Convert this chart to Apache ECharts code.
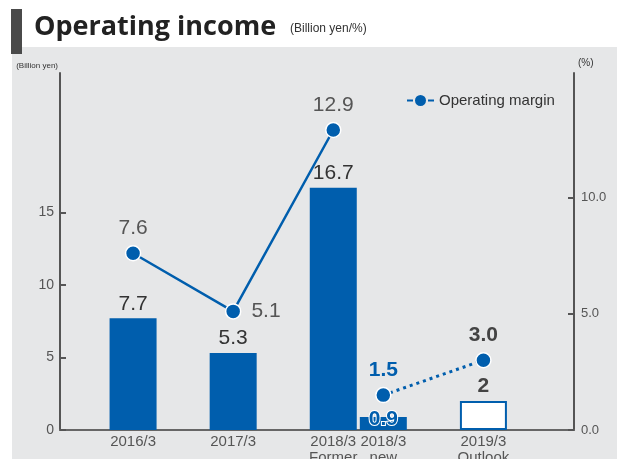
<!DOCTYPE html>
<html>
<head>
<meta charset="utf-8">
<script src="https://cdn.jsdelivr.net/npm/echarts@6/dist/echarts.min.js"></script>
<style>
  html, body { margin: 0; padding: 0; background: #fff; }
  #chart { width: 617px; height: 459px; }
</style>
</head>
<body>
<div id="chart"></div>
<script>
// Fiscal years shown on the horizontal axis
const categories = ['2016/3', '2017/3', '2018/3\nFormer', '2018/3\nnew', '2019/3\nOutlook'];
// Operating income, billion yen (last one is the outlook)
const operatingIncome = [7.7, 5.3, 16.7, 0.9, 2];
// Operating margin, %
const operatingMargin = [7.6, 5.1, 12.9, 1.5, 3.0];
// Axis tick values
const incomeTicks = [0, 5, 10, 15];
const marginTicks = [0, 5, 10];

const BLUE = '#005EAD';
const FONT = '"Liberation Sans", Arial, sans-serif';

// Column slots on the x axis: the two 2018/3 columns sit side by side
const slot = [1, 3, 5, 6, 8];
const outlookIndex = 4;
const newBasisIndex = 3;

const barData = operatingIncome.map((v, i) => {
  const item = { value: [slot[i], v] };
  if (i === outlookIndex) {
    item.itemStyle = { color: '#fff', borderColor: BLUE, borderWidth: 2 };
    item.label = { fontWeight: 'bold', color: '#444' };
  }
  if (i === newBasisIndex) {
    item.label = {
      fontWeight: 'bold', color: BLUE,
      textBorderColor: '#fff', textBorderWidth: 2,
      position: 'top', distance: -13
    };
  }
  return item;
});

const marginSolid = [0, 1, 2].map(i => {
  const item = { value: [slot[i], operatingMargin[i]] };
  if (i === 1) item.label = { position: 'right', distance: 10 };
  return item;
});
const marginDotted = [3, 4].map(i => {
  const item = { value: [slot[i], operatingMargin[i]] };
  item.label = { fontWeight: 'bold', color: i === 3 ? BLUE : '#444' };
  return item;
});

const labelFor = v => {
  const i = slot.indexOf(Math.round(v));
  return i >= 0 ? categories[i] : '';
};
const pct = p => p.value[1].toFixed(1);

const chart = echarts.init(document.getElementById('chart'), null, { renderer: 'canvas' });

chart.setOption({
  backgroundColor: '#fff',
  animation: false,
  textStyle: { fontFamily: FONT },
  graphic: [
    { type: 'rect', z: -10, shape: { x: 12, y: 47, width: 605, height: 412 }, style: { fill: '#E6E7E8' } },
    { type: 'rect', z: -5, shape: { x: 11, y: 9, width: 11, height: 45 }, style: { fill: '#4A4A4A' } },
    { type: 'text', z: 5, style: { text: 'Operating income', x: 34, y: 27, verticalAlign: 'middle',
        font: 'bold 27px "Open Sans", "Liberation Sans", sans-serif', fill: '#222' } },
    { type: 'text', z: 5, style: { text: '(Billion yen/%)', x: 290, y: 29, verticalAlign: 'middle',
        font: '12px ' + FONT, fill: '#333' } },
    { type: 'text', z: 5, style: { text: '(Billion yen)', x: 58, y: 66, align: 'right', verticalAlign: 'middle',
        font: '8px ' + FONT, fill: '#333' } },
    { type: 'text', z: 5, style: { text: '(%)', x: 578, y: 63, verticalAlign: 'middle',
        font: '10px ' + FONT, fill: '#333' } }
  ],
  legend: {
    left: 402, top: 88,
    itemWidth: 27, itemHeight: 12, itemGap: 5,
    textStyle: { fontSize: 15, color: '#333', fontFamily: FONT },
    itemStyle: { borderWidth: 0 },
    data: [{
      name: 'Operating margin',
      icon: 'path://M0,5h6v2H0z M13.5,0.5a5.5,5.5 0 1 1 0,11a5.5,5.5 0 1 1 0,-11z M21,5h6v2h-6z'
    }]
  },
  grid: { left: 60, right: 43, top: 73, bottom: 29, containLabel: false, outerBoundsMode: 'none' },
  xAxis: {
    type: 'value', min: -0.46, max: 9.81,
    splitLine: { show: false },
    axisLine: { show: true, onZero: false, lineStyle: { color: '#666', width: 2 } },
    axisTick: { show: false },
    axisLabel: {
      customValues: slot,
      formatter: labelFor,
      color: '#555', fontSize: 15, lineHeight: 16, margin: 4, fontFamily: FONT
    }
  },
  yAxis: [
    {
      type: 'value', min: 0, max: 24.6, position: 'left',
      splitLine: { show: false },
      axisLine: { show: true, onZero: false, lineStyle: { color: '#555', width: 2 } },
      axisTick: { show: true, inside: true, length: 6, customValues: incomeTicks, lineStyle: { color: '#555', width: 2 } },
      axisLabel: { customValues: incomeTicks, color: '#555', fontSize: 14, margin: 6, fontFamily: FONT }
    },
    {
      type: 'value', min: 0, max: 15.35, position: 'right',
      splitLine: { show: false },
      axisLine: { show: true, onZero: false, lineStyle: { color: '#555', width: 2 } },
      axisTick: { show: true, inside: true, length: 6, customValues: marginTicks, lineStyle: { color: '#555', width: 2 } },
      axisLabel: { customValues: marginTicks, formatter: v => v.toFixed(1), color: '#555', fontSize: 13, margin: 7, fontFamily: FONT }
    }
  ],
  series: [
    {
      name: 'Operating income',
      type: 'bar',
      yAxisIndex: 0,
      barWidth: 47,
      itemStyle: { color: BLUE },
      label: { show: true, position: 'top', distance: 4, fontSize: 21, color: '#333', fontFamily: FONT },
      data: barData,
      z: 2
    },
    {
      name: 'Operating margin',
      type: 'line',
      yAxisIndex: 1,
      symbol: 'circle', symbolSize: 15,
      itemStyle: { color: BLUE, borderColor: '#fff', borderWidth: 1.5 },
      lineStyle: { color: BLUE, width: 2.5 },
      label: { show: true, position: 'top', distance: 6, fontSize: 21, color: '#555', fontFamily: FONT, formatter: pct },
      data: marginSolid,
      z: 4
    },
    {
      name: 'Operating margin (new basis)',
      type: 'line',
      yAxisIndex: 1,
      symbol: 'circle', symbolSize: 15,
      itemStyle: { color: BLUE, borderColor: '#fff', borderWidth: 1.5 },
      lineStyle: { color: BLUE, width: 3, type: [3, 4] },
      label: { show: true, position: 'top', distance: 6, fontSize: 21, color: '#444', fontWeight: 'bold', fontFamily: FONT, formatter: pct },
      data: marginDotted,
      z: 4
    }
  ]
});
</script>
</body>
</html>
